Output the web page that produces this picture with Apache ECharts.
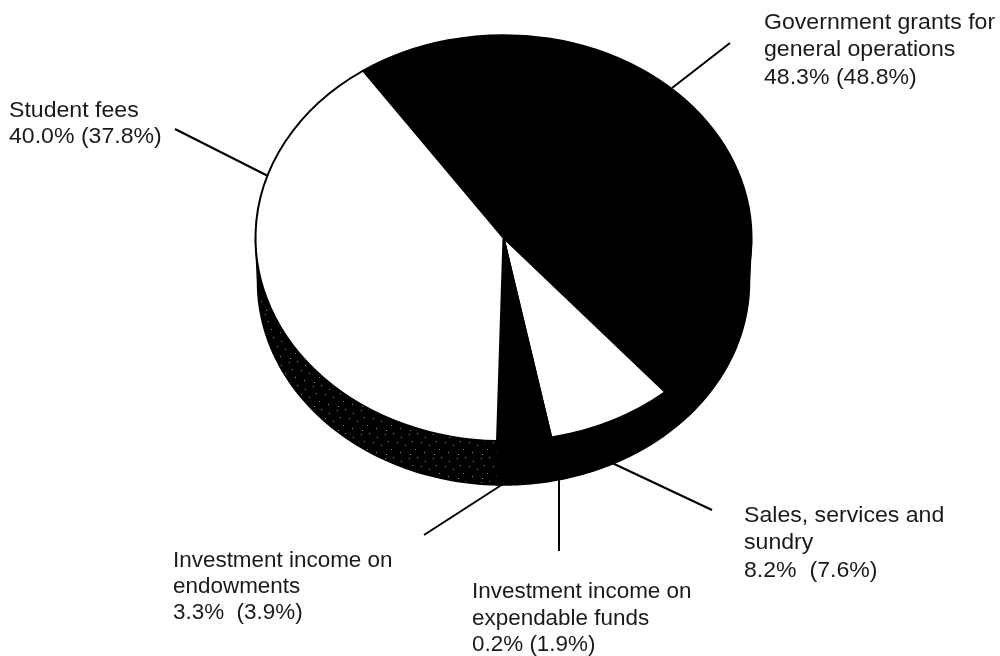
<!DOCTYPE html>
<html><head><meta charset="utf-8">
<style>html,body{margin:0;padding:0;background:#fff}#c{width:1000px;height:656px}</style>
<script src="https://cdn.jsdelivr.net/npm/echarts@6/dist/echarts.min.js"></script>
</head><body><div id="c"></div>
<script>
const categories = ['Government grants for general operations','Sales, services and sundry','Investment income on expendable funds','Investment income on endowments','Student fees'];
const currentShare = [48.3, 8.2, 0.2, 3.3, 40.0];
const priorShare = [48.8, 7.6, 1.9, 3.9, 37.8];
const topColors = ['#000','#fff','#000','#000','#fff'];
const labelLines = [
  ['Government grants for','general operations','48.3% (48.8%)'],
  ['Sales, services and','sundry','8.2%  (7.6%)'],
  ['Investment income on','expendable funds','0.2% (1.9%)'],
  ['Investment income on','endowments','3.3%  (3.9%)'],
  ['Student fees','40.0% (37.8%)']
];
const labelAnchors = [[764,9],[744,502],[472,579],[173,548],[9,98]];
const labelStretch = [1.05,1.05,1.02,1.02,1.05];
const labelLeading = [27.5,27.5,26.5,26,26];
const leaderLines = [[672,88,730,43],[610,462,712,510],[559,480,559,551],[503,484,424,535],[268,176,175,129]];

const CX=503.5, CY=238, RX=248, RY=203, DEPTH=44, SIDE_RX=246, START=-34.5;
const total = currentShare.reduce((a,b)=>a+b,0);
const rad = d=>d*Math.PI/180;
function bounds(i){
  let s=0; for(let k=0;k<i;k++) s+=currentShare[k];
  return [START+s/total*360, START+(s+currentShare[i])/total*360];
}
// dark stipple for the side of the student-fees slice
const tile=document.createElement('canvas'); tile.width=tile.height=24;
const g=tile.getContext('2d'); g.fillStyle='#000'; g.fillRect(0,0,24,24);
g.fillStyle='#8a8a8a'; [[1,2],[9,1],[17,5],[4,9],[13,10],[21,13],[7,17],[16,20],[2,22]].forEach(p=>g.fillRect(p[0],p[1],1,1));
const sideFills=['#000','#000','#000','#000',{image:tile,repeat:'repeat'}];

function renderSide(params,api){
  const i=api.value(0); const [a0,b0]=bounds(i);
  const a=Math.max(a0,90), b=Math.min(b0,270);
  if(b<=a) return null;
  const pts=[];
  for(let k=0;k<=60;k++){const t=rad(a+(b-a)*k/60); pts.push([CX+RX*Math.sin(t),CY-RY*Math.cos(t)]);}
  for(let k=60;k>=0;k--){const t=rad(a+(b-a)*k/60); pts.push([CX+SIDE_RX*Math.sin(t),CY-RY*Math.cos(t)+DEPTH]);}
  return {type:'polygon',shape:{points:pts},style:{fill:sideFills[i],stroke:'#000',lineWidth:1.5}};
}
function renderTop(params,api){
  const i=api.value(0); const [a,b]=bounds(i);
  return {type:'sector',x:CX,y:CY,scaleX:1,scaleY:RY/RX,
    shape:{cx:0,cy:0,r0:0,r:RX,startAngle:rad(a-90),endAngle:rad(b-90),clockwise:true},
    style:{fill:topColors[i],stroke:'#000',lineWidth:2}};
}
const itemData=categories.map((c,i)=>({name:c,value:[i,currentShare[i],priorShare[i]]}));
const graphics=[];
leaderLines.forEach(l=>graphics.push({type:'line',shape:{x1:l[0],y1:l[1],x2:l[2],y2:l[3]},style:{stroke:'#000',lineWidth:2},z:5}));
labelLines.forEach((ls,i)=>graphics.push({type:'text',x:labelAnchors[i][0],y:labelAnchors[i][1],scaleX:labelStretch[i],z:6,
  style:{text:ls.join('\n'),fill:'#1a1a1a',font:'22px "Liberation Sans", Arial, sans-serif',lineHeight:labelLeading[i],textVerticalAlign:'top'}}));
const chart=echarts.init(document.getElementById('c'),null,{renderer:'canvas'});
chart.setOption({
  animation:false,backgroundColor:'#fff',
  series:[
    {type:'custom',coordinateSystem:'none',renderItem:renderSide,data:itemData,silent:true,z:1},
    {type:'custom',coordinateSystem:'none',renderItem:renderTop,data:itemData,silent:true,z:2}
  ],
  graphic:graphics
});
</script></body></html>
